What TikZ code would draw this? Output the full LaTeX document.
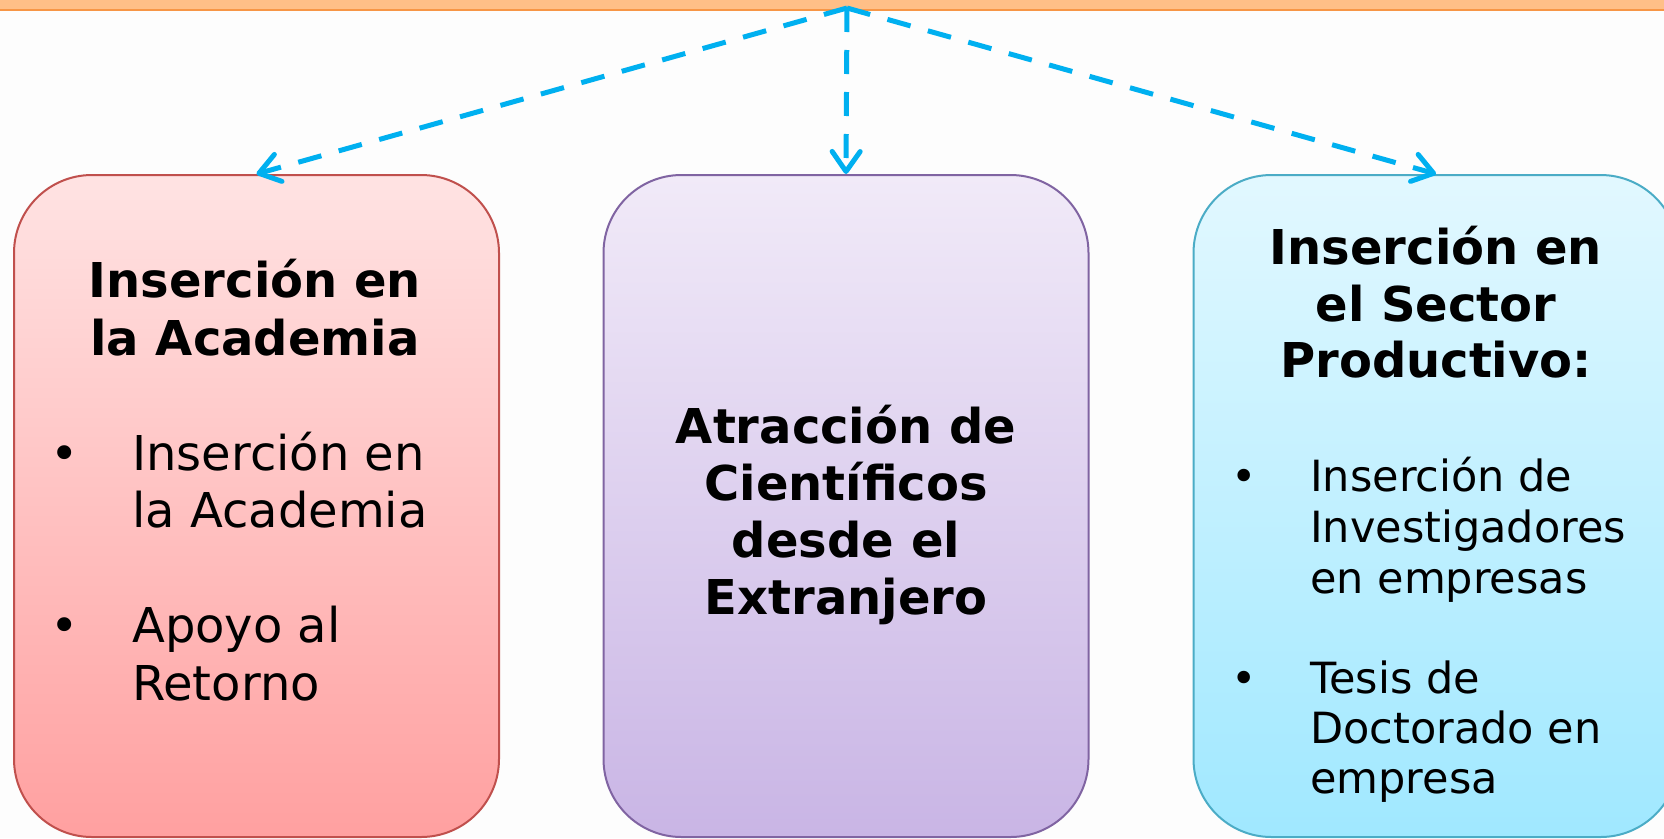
\documentclass[tikz,border=0pt]{standalone}
\usepackage{fontspec}
\setmainfont{DejaVu Sans}
\usetikzlibrary{arrows.meta}
\definecolor{bgc}{HTML}{FDFDFD}
\definecolor{barfill}{HTML}{FFBF87}
\definecolor{barline}{HTML}{F79646}
\definecolor{arrowblue}{HTML}{00B0F0}
\definecolor{redtop}{HTML}{FFE3E3}
\definecolor{redbot}{HTML}{FFA0A0}
\definecolor{redline}{HTML}{C0504D}
\definecolor{purtop}{HTML}{F1EAF8}
\definecolor{purbot}{HTML}{C9B5E5}
\definecolor{purline}{HTML}{8064A2}
\definecolor{cyantop}{HTML}{E2F8FF}
\definecolor{cyanbot}{HTML}{A0E8FF}
\definecolor{cyanline}{HTML}{4BACC6}
\tikzset{
  panel/.style={rectangle, rounded corners=78pt, minimum width=485pt, minimum height=662pt, inner sep=0pt, line width=2pt},
  conn/.style={draw=arrowblue, line width=5pt, dash pattern=on 24pt off 18pt, -{Straight Barb[length=20pt,width=28pt,round]}},
  ttl/.style={anchor=base, inner sep=0pt, font=\bfseries\fontsize{48}{58}\selectfont},
  itm/.style={anchor=base west, inner sep=0pt, font=\fontsize{48}{56}\selectfont},
  itmr/.style={anchor=base west, inner sep=0pt, font=\fontsize{43}{50}\selectfont},
  bul/.style={anchor=base, inner sep=0pt, font=\fontsize{48}{56}\selectfont},
  bulr/.style={anchor=base, inner sep=0pt, font=\fontsize{43}{50}\selectfont}
}
\begin{document}
\begin{tikzpicture}[x=1pt,y=-1pt]
\useasboundingbox (0,0) rectangle (1664,838);
\clip (0,0) rectangle (1664,838);
\fill[bgc] (0,0) rectangle (1664,838);
\fill[barfill] (0,0) rectangle (1664,10);
\draw[barline, line width=2pt] (0,10) -- (1664,10);

\node[panel, draw=redline, top color=redtop, bottom color=redbot] (L) at (256.5,506) {};
\node[panel, draw=purline, top color=purtop, bottom color=purbot] (M) at (846,506) {};
\node[panel, draw=cyanline, top color=cyantop, bottom color=cyanbot] (R) at (1436,506) {};

\coordinate (src) at (847,8);
\draw[conn] (src) -- (L.north);
\draw[conn] (src) -- (M.north);
\draw[conn] (src) -- (R.north);

% left box
\node[ttl] (lt1) at (255,297) {Inserción en};
\node[ttl] (lt2) at (255,355) {la Academia};
\node[bul] (lb1) at (65,470) {•};
\node[itm] (li1) at (132,470) {Inserción en};
\node[itm] (li2) at (132,527) {la Academia};
\node[bul] (lb2) at (65,642) {•};
\node[itm] (li3) at (132,642) {Apoyo al};
\node[itm] (li4) at (132,700) {Retorno};

% middle box
\node[ttl] (mt1) at (846,443) {Atracción de};
\node[ttl] (mt2) at (846,500) {Científicos};
\node[ttl] (mt3) at (846,557) {desde el};
\node[ttl] (mt4) at (846,614) {Extranjero};

% right box
\node[ttl] (rt1) at (1436,264) {Inserción en};
\node[ttl] (rt2) at (1436,321) {el Sector};
\node[ttl] (rt3) at (1436,377) {Productivo:};
\node[bulr] (rb1) at (1244,491) {•};
\node[itmr] (ri1) at (1310,491) {Inserción de};
\node[itmr] (ri2) at (1310,542) {Investigadores};
\node[itmr] (ri3) at (1310,593) {en empresas};
\node[bulr] (rb2) at (1244,693) {•};
\node[itmr] (ri4) at (1310,693) {Tesis de};
\node[itmr] (ri5) at (1310,743) {Doctorado en};
\node[itmr] (ri6) at (1310,793) {empresa};
\end{tikzpicture}
\end{document}
